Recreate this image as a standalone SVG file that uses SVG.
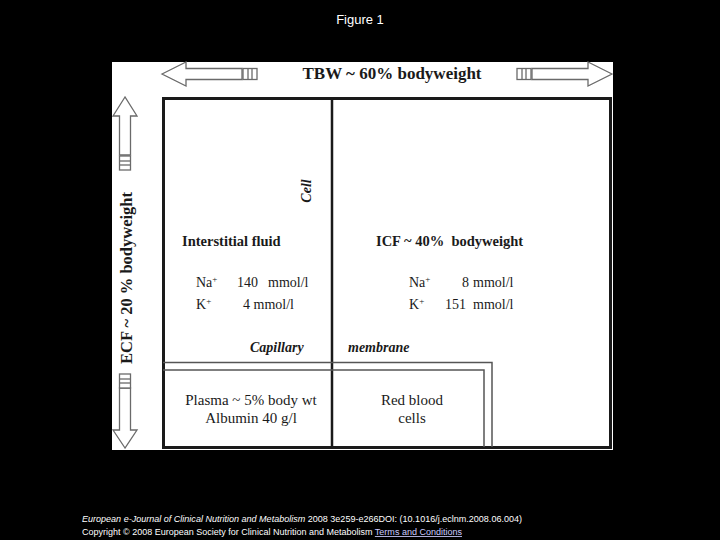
<svg xmlns="http://www.w3.org/2000/svg" width="720" height="540" viewBox="0 0 720 540">
<style>
.serif{font-family:"Liberation Serif","Times New Roman",serif;fill:#1a1a1a}
.b{font-weight:bold}
.i{font-style:italic}
.arrow{fill:#fff;stroke:#6a6a6a;stroke-width:1.3}
.thin{fill:none;stroke:#555;stroke-width:1.5}
.cap{font-family:"Liberation Sans",Arial,sans-serif;fill:#fff;font-size:8.5px}
</style>
<rect x="0" y="0" width="720" height="540" fill="#000"/>
<text x="360" y="24" text-anchor="middle" font-family="Liberation Sans, Arial, sans-serif" font-size="13" fill="#fff">Figure 1</text>
<rect x="112" y="62" width="501" height="388" fill="#fff"/>

<g id="connectors">
  <g id="tbw-arrow-left">
    <polygon class="arrow" points="162,74 186,62 186,68.5 242,68.5 242,79.5 186,79.5 186,86"/>
    <rect class="arrow" x="243" y="68.5" width="14" height="11"/>
    <line x1="248" y1="68.5" x2="248" y2="79.5" stroke="#6a6a6a" stroke-width="1.3"/>
    <line x1="252" y1="68.5" x2="252" y2="79.5" stroke="#6a6a6a" stroke-width="1.3"/>
  </g>
  <g id="tbw-arrow-right">
    <polygon class="arrow" points="612,74 588,62 588,68.5 532,68.5 532,79.5 588,79.5 588,86"/>
    <rect class="arrow" x="517" y="68.5" width="14" height="11"/>
    <line x1="522" y1="68.5" x2="522" y2="79.5" stroke="#6a6a6a" stroke-width="1.3"/>
    <line x1="526" y1="68.5" x2="526" y2="79.5" stroke="#6a6a6a" stroke-width="1.3"/>
  </g>
  <g id="ecf-arrow-top">
    <polygon class="arrow" points="125,97 113,116 119.5,116 119.5,155 130.5,155 130.5,116 137,116"/>
    <rect class="arrow" x="119.5" y="156" width="11" height="14"/>
    <line x1="119.5" y1="161" x2="130.5" y2="161" stroke="#6a6a6a" stroke-width="1.3"/>
    <line x1="119.5" y1="165" x2="130.5" y2="165" stroke="#6a6a6a" stroke-width="1.3"/>
  </g>
  <g id="ecf-arrow-bottom">
    <polygon class="arrow" points="125,448 113,430 119.5,430 119.5,388 130.5,388 130.5,430 137,430"/>
    <rect class="arrow" x="119.5" y="374" width="11" height="14"/>
    <line x1="119.5" y1="379" x2="130.5" y2="379" stroke="#6a6a6a" stroke-width="1.3"/>
    <line x1="119.5" y1="383" x2="130.5" y2="383" stroke="#6a6a6a" stroke-width="1.3"/>
  </g>
</g>

<g id="tbw-label">
  <text class="serif b" x="392" y="79" text-anchor="middle" font-size="17">TBW ~ 60% bodyweight</text>
</g>
<g id="ecf-label">
  <text class="serif b" transform="translate(132,278) rotate(-90)" text-anchor="middle" font-size="16.5">ECF ~ 20 % bodyweight</text>
</g>

<g id="body-box">
  <rect x="163.5" y="98.5" width="447" height="349" fill="none" stroke="#1a1a1a" stroke-width="3"/>
</g>

<g id="cell-membrane">
  <line x1="332" y1="98" x2="332" y2="448" stroke="#1a1a1a" stroke-width="2.5"/>
  <text class="serif b i" transform="translate(311,191) rotate(-90)" text-anchor="middle" font-size="14">Cell</text>
</g>

<g id="capillary">
  <polyline class="thin" points="163,362.5 492,362.5 492,447"/>
  <polyline class="thin" points="163,370 484,370 484,447"/>
  <text class="serif b i" x="250" y="352" font-size="14">Capillary</text>
  <text class="serif b i" x="348" y="352" font-size="14">membrane</text>
</g>

<g id="interstitial">
  <text class="serif b" x="182" y="246" font-size="14.5">Interstitial fluid</text>
  <text class="serif" x="196" y="287" font-size="14">Na<tspan dy="-5" font-size="9">+</tspan></text>
  <text class="serif" x="237" y="287" font-size="14">140</text>
  <text class="serif" x="268" y="287" font-size="14">mmol/l</text>
  <text class="serif" x="196" y="309" font-size="14">K<tspan dy="-5" font-size="9">+</tspan></text>
  <text class="serif" x="243" y="309" font-size="14">4 mmol/l</text>
</g>

<g id="icf">
  <text class="serif b" x="376" y="246" font-size="14.5" xml:space="preserve">ICF ~ 40%  bodyweight</text>
  <text class="serif" x="409" y="287" font-size="14">Na<tspan dy="-5" font-size="9">+</tspan></text>
  <text class="serif" x="462" y="287" font-size="14">8</text>
  <text class="serif" x="473" y="287" font-size="14">mmol/l</text>
  <text class="serif" x="409" y="309" font-size="14">K<tspan dy="-5" font-size="9">+</tspan></text>
  <text class="serif" x="445" y="309" font-size="14">151</text>
  <text class="serif" x="473" y="309" font-size="14">mmol/l</text>
</g>

<g id="plasma">
  <text class="serif" x="251" y="405" text-anchor="middle" font-size="15">Plasma ~ 5% body wt</text>
  <text class="serif" x="251" y="423" text-anchor="middle" font-size="15">Albumin 40 g/l</text>
</g>

<g id="rbc">
  <text class="serif" x="412" y="405" text-anchor="middle" font-size="15">Red blood</text>
  <text class="serif" x="412" y="423" text-anchor="middle" font-size="15">cells</text>
</g>

<g id="caption">
  <text class="cap" x="82" y="522" textLength="440" lengthAdjust="spacingAndGlyphs"><tspan font-style="italic">European e-Journal of Clinical Nutrition and Metabolism</tspan> 2008 3e259-e266DOI: (10.1016/j.eclnm.2008.06.004)</text>
  <text class="cap" x="82" y="535" textLength="380" lengthAdjust="spacingAndGlyphs">Copyright © 2008 European Society for Clinical Nutrition and Metabolism <tspan fill="#ccccff" text-decoration="underline">Terms and Conditions</tspan></text>
</g>
</svg>
